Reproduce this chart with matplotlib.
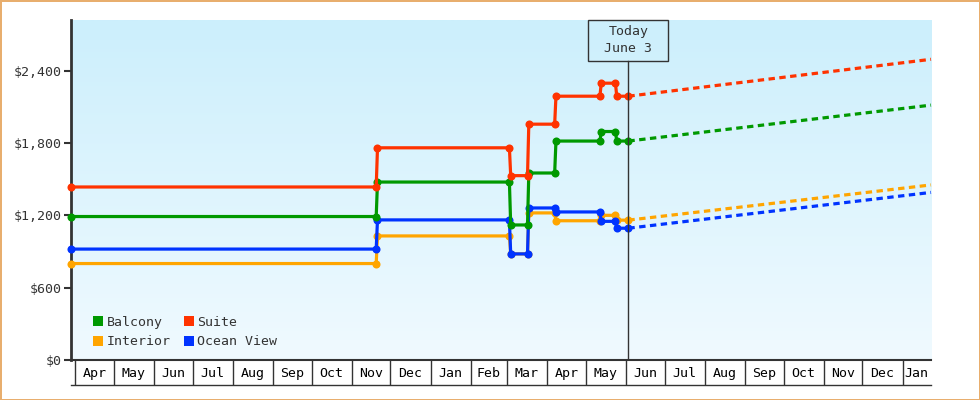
import datetime as dt
import numpy as np
import matplotlib
matplotlib.use("Agg")
import matplotlib.pyplot as plt
import matplotlib.dates as mdates
import matplotlib.transforms as mtransforms
from matplotlib.lines import Line2D
from matplotlib.patches import Rectangle
from matplotlib.colors import LinearSegmentedColormap

D = dt.date

# price history (step changes, one day apart) up to today
hist_dates = [D(2022, 3, 29), D(2022, 11, 20), D(2022, 11, 21), D(2023, 3, 3), D(2023, 3, 4),
              D(2023, 3, 17), D(2023, 3, 18), D(2023, 4, 7), D(2023, 4, 8), D(2023, 5, 12),
              D(2023, 5, 13), D(2023, 5, 24), D(2023, 5, 25), D(2023, 6, 3)]
balcony  = [1190, 1190, 1476, 1476, 1120, 1120, 1551, 1551, 1816, 1816, 1895, 1895, 1816, 1816]
suite    = [1435, 1435, 1760, 1760, 1529, 1529, 1956, 1956, 2188, 2188, 2296, 2296, 2188, 2188]
interior = [800, 800, 1029, 1029, 880, 880, 1220, 1220, 1155, 1155, 1200, 1200, 1160, 1160]
ocean    = [920, 920, 1162, 1162, 880, 880, 1261, 1261, 1228, 1228, 1150, 1150, 1093, 1093]

# forecast from today to end of range
fc_dates = [D(2023, 6, 3), D(2024, 1, 23)]
balcony_fc  = [1816, 2114]
suite_fc    = [2188, 2494]
interior_fc = [1160, 1452]
ocean_fc    = [1093, 1390]

today = D(2023, 6, 3)
yticks = [0, 600, 1200, 1800, 2400]

colors = {"Balcony": "#009900", "Suite": "#FF3300", "Interior": "#FFA500", "Ocean View": "#0033FF"}
ink = "#333333"
fs = 9.5
plt.rcParams["font.family"] = ["DejaVu Sans Mono"]

fig = plt.figure(figsize=(9.8, 4), dpi=100)
fig.patch.set_facecolor("white")
fig.patch.set_edgecolor("#E8AE6E")
fig.patch.set_linewidth(2)
ax = fig.add_axes([71 / 980, 40 / 400, 860 / 980, 340 / 400])

xmin, xmax = D(2022, 3, 29), D(2024, 1, 23)
ax.set_xlim(xmin, xmax)
ax.set_ylim(0, 2820)

# gradient background
grad = LinearSegmentedColormap.from_list("bg", ["#F0FAFF", "#CCEFFC"])
ax.imshow(np.linspace(0, 1, 256).reshape(-1, 1), cmap=grad, aspect="auto",
          extent=[0, 1, 0, 1], transform=ax.transAxes, origin="lower", zorder=0)

# drawn bottom to top: interior, ocean view, balcony, suite
series = [("Interior", interior, interior_fc), ("Ocean View", ocean, ocean_fc),
          ("Balcony", balcony, balcony_fc), ("Suite", suite, suite_fc)]
for i, (name, vals, fc) in enumerate(series):
    c = colors[name]
    ax.plot(hist_dates, vals, color=c, lw=2.3, marker="o", ms=5.8, mew=0,
            solid_joinstyle="miter", zorder=3 + i, clip_on=False)
    ax.plot(fc_dates, fc, color=c, lw=2.3, linestyle=(0, (2, 1.4)), zorder=3 + i, clip_on=False)

# today marker: vertical line + label box (80 x 40 px, at top of plot)
box_bottom = (340 - 40.7) / 340
ax.axvline(today, ymin=0, ymax=box_bottom, color=ink, lw=1, zorder=10)
today_px = ax.transData.transform((mdates.date2num(today), 0))[0]
box = Rectangle(((today_px - 40) / fig.dpi, box_bottom), 80 / fig.dpi, 1 - box_bottom,
                fill=False, ec=ink, lw=1, zorder=11, clip_on=False,
                transform=mtransforms.blended_transform_factory(fig.dpi_scale_trans, ax.transAxes))
ax.add_patch(box)
ax.text(today, (1 + box_bottom) / 2, "Today\nJune 3", transform=ax.get_xaxis_transform(),
        ha="center", va="center", fontsize=fs, color=ink, linespacing=1.4, zorder=12)

# y axis
ax.set_yticks(yticks)
ax.set_yticklabels(["$" + format(v, ",") for v in yticks])
ax.tick_params(axis="y", length=5, width=1.5, color=ink, labelcolor=ink, labelsize=fs, pad=2)
for s in ["top", "right"]:
    ax.spines[s].set_visible(False)
ax.spines["left"].set_color(ink)
ax.spines["left"].set_linewidth(2)
ax.spines["bottom"].set_color(ink)
ax.spines["bottom"].set_linewidth(1.5)

# month boxes below the axis
month_starts = [D(2022 + (3 + k) // 12, (3 + k) % 12 + 1, 1) for k in range(22)]
ax.set_xticks(month_starts)
ax.tick_params(axis="x", which="major", length=18, width=1, color=ink, labelbottom=False)
mid = []
labels = []
for k, m in enumerate(month_starts):
    nxt = month_starts[k + 1] if k + 1 < len(month_starts) else D(2024, 2, 1)
    a = mdates.date2num(m)
    b = mdates.date2num(min(nxt, xmax))
    mid.append((a + b) / 2)
    labels.append(m.strftime("%b"))
ax.set_xticks(mid, minor=True)
ax.set_xticklabels(labels, minor=True)
ax.tick_params(axis="x", which="minor", length=0, pad=5, labelsize=fs, labelcolor="black")
ax.plot([0, 1], [-25 / 340, -25 / 340], transform=ax.transAxes, color=ink, lw=1, clip_on=False)

# legend
handles = [Line2D([], [], ls="none", marker="s", ms=7.3, mew=0, color=colors[n])
           for n in ["Balcony", "Interior", "Suite", "Ocean View"]]
ax.legend(handles, ["Balcony", "Interior", "Suite", "Ocean View"], ncol=2, loc="lower left",
          bbox_to_anchor=(0.012, 0.0), frameon=False, fontsize=fs, handlelength=0.8,
          handletextpad=0.2, columnspacing=1.0, labelspacing=0.5, labelcolor=ink)

fig.savefig("out.png", dpi=100)
